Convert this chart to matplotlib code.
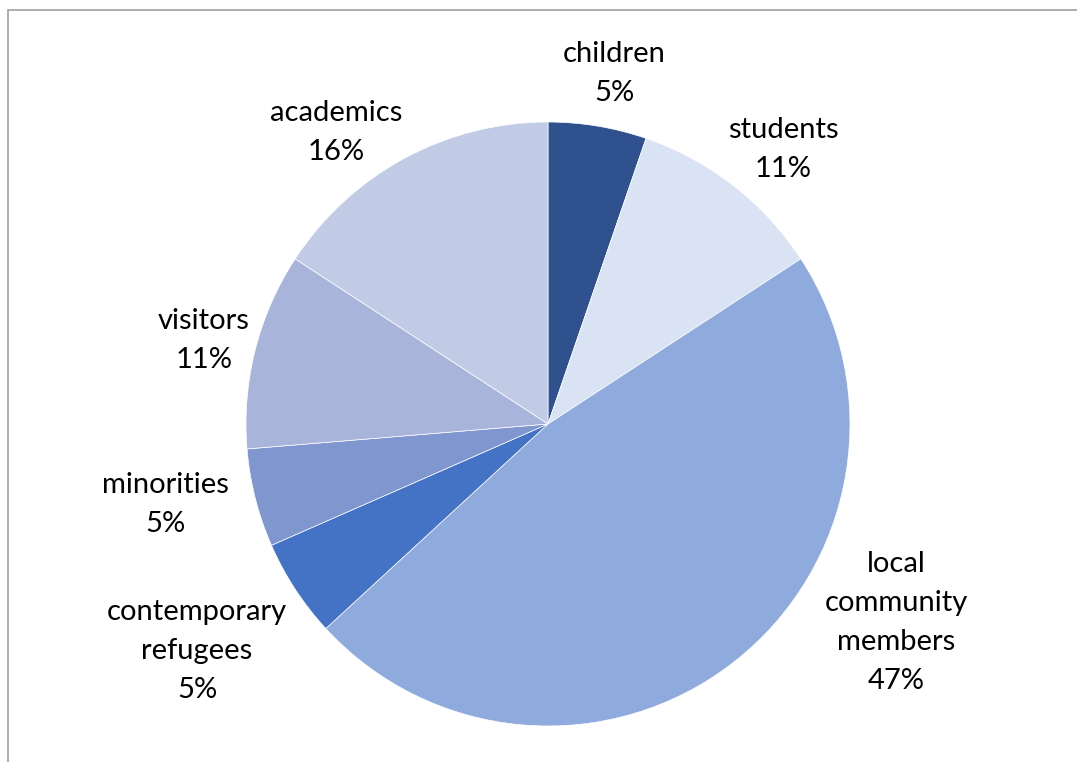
import matplotlib
matplotlib.use("Agg")
import matplotlib.pyplot as plt
from matplotlib.patches import Rectangle

plt.rcParams["font.family"] = ["Lato", "DejaVu Sans"]

labels = ["children", "students", "local\ncommunity\nmembers", "contemporary\nrefugees",
          "minorities", "visitors", "academics"]
counts = [1, 2, 9, 1, 1, 2, 3]
pct_text = ["5%", "11%", "47%", "5%", "5%", "11%", "16%"]
colors = ["#2F528F", "#DAE3F3", "#8FAADC", "#4472C4", "#7F96CF", "#A8B4DA", "#C1CBE5"]
# label positions (pie radius units), like Excel's best-fit placement
label_pos = [(0.219, 1.16), (0.78, 0.91), (1.152, -0.656), (-1.162, -0.752),
             (-1.268, -0.268), (-1.139, 0.275), (-0.702, 0.964)]

fig = plt.figure(figsize=(10.77, 7.62), dpi=100)
fig.patches.append(Rectangle((8 / 1077, -0.1), 1.5, 1 - 10 / 762 + 0.1,
                             transform=fig.transFigure, fill=False,
                             edgecolor="#A0A0A0", linewidth=1.2))

ax = fig.add_axes([(548 - 302) / 1077, (762 - 424 - 302) / 762, 604 / 1077, 604 / 762])
ax.pie(counts, colors=colors, startangle=90, counterclock=False, radius=1,
       wedgeprops=dict(edgecolor="white", linewidth=0.5))
ax.set_xlim(-1, 1)
ax.set_ylim(-1, 1)
ax.set_aspect("equal")
ax.axis("off")

for lab, p, (x, y) in zip(labels, pct_text, label_pos):
    ax.text(x, y, lab + "\n" + p, ha="center", va="center", fontsize=21,
            linespacing=1.62, color="#000000", clip_on=False)

fig.savefig("out.png", dpi=100)
